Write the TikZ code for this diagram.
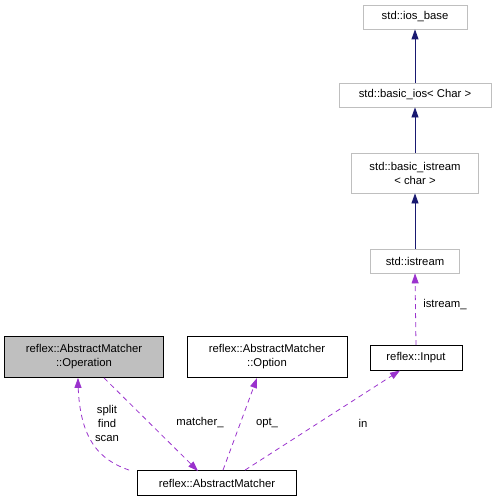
\documentclass[tikz,border=0pt]{standalone}
\usepackage{fontspec}
\setmainfont{Liberation Sans}
\usetikzlibrary{arrows.meta}
\definecolor{navyedge}{HTML}{191970}
\definecolor{purpleedge}{HTML}{9A32CD}
\definecolor{stdgray}{HTML}{BFBFBF}
\begin{document}
\begin{tikzpicture}[x=1pt,y=-1pt,font=\fontsize{11.3}{14}\selectfont,line width=0.8pt,
    cls/.style={draw,rectangle,inner sep=0pt,align=center},
    stdcls/.style={cls,draw=stdgray},
    inherit/.style={navyedge,-{Triangle[length=10pt,width=7pt]}},
    usage/.style={purpleedge,dashed,dash pattern=on 5pt off 4pt,-{Triangle[length=10pt,width=7pt]}},
    lbl/.style={align=center,inner sep=0pt}]
\useasboundingbox (0,0) rectangle (499,503);
\node[stdcls,minimum width=104pt,minimum height=24pt] (iosbase) at (415,17) {std::ios\_base};
\node[stdcls,minimum width=152pt,minimum height=24pt] (basicios) at (415,95) {std::basic\_ios< Char >};
\node[stdcls,minimum width=127pt,minimum height=40pt] (basicistream) at (415,173) {std::basic\_istream\\< char >};
\node[stdcls,minimum width=89pt,minimum height=24pt] (istream) at (415,261) {std::istream};
\node[cls,minimum width=92pt,minimum height=25pt] (input) at (416,358) {reflex::Input};
\node[cls,minimum width=160pt,minimum height=41pt] (option) at (267,357) {reflex::AbstractMatcher\\::Option};
\node[cls,fill=stdgray,minimum width=159pt,minimum height=41pt] (operation) at (84,357) {reflex::AbstractMatcher\\::Operation};
\node[cls,minimum width=159pt,minimum height=25pt] (matcher) at (217,483) {reflex::AbstractMatcher};
% inheritance
\draw[inherit] (basicios) -- (iosbase);
\draw[inherit] (basicistream) -- (basicios);
\draw[inherit] (istream) -- (basicistream);
% members
\draw[usage] (input.north) ++(0,0) coordinate (inp) (inp) -- (istream.south);
\node[lbl] (lblistream) at (445,305) {istream\_};
\draw[usage] (matcher.north west) ++(-8,0) coordinate (mw)
  (mw) .. controls (100,460) and (78,440) .. (78,378) -- (operation.south -| 78,0);
\node[lbl] (lblops) at (107,423) {split\\find\\scan};
\draw[usage] (operation.south) ++(20,0) coordinate (opo) (opo) -- (198,471);
\node[lbl] (lblmatcher) at (200,423) {matcher\_};
\draw[usage] (matcher.north) ++(6,0) coordinate (mo) (mo) -- (257,378);
\node[lbl] (lblopt) at (267,423) {opt\_};
\draw[usage] (matcher.north) ++(28,0) coordinate (mi) (mi) -- (400,370.5);
\node[lbl] (lblin) at (363,423) {in};
\end{tikzpicture}
\end{document}
